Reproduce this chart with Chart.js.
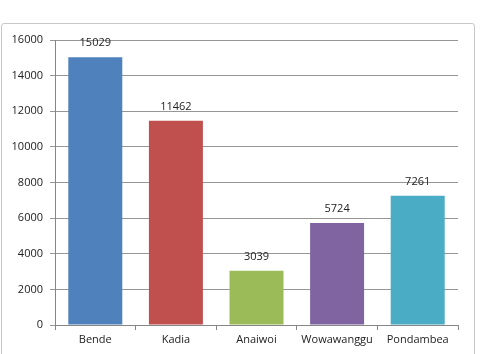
<!DOCTYPE html>
<html>
<head>
<meta charset="utf-8">
<script src="https://cdn.jsdelivr.net/npm/chart.js@4/dist/chart.umd.min.js"></script>
<style>
  body { margin: 0; background: #fff; }
  #frame { position: absolute; left: 1px; top: 23px; width: 472px; height: 345px; border: 1px solid #c8c8c8; border-radius: 3px; }
  #wrap { position: absolute; left: 0; top: 0; width: 480px; height: 354px; }
</style>
</head>
<body>
<div id="frame"></div>
<div id="wrap"><canvas id="myChart" width="480" height="354"></canvas></div>
<script>
// data
let villages = ['Bende', 'Kadia', 'Anaiwoi', 'Wowawanggu', 'Pondambea'];
let counts = [15029, 11462, 3039, 5724, 7261];
let barColors = ['#4F81BD', '#C0504D', '#9BBB59', '#8064A2', '#4BACC6'];

let fontFam = '"Open Sans", "Liberation Sans", sans-serif';

// value labels above each bar
let topLabels = {
    id: 'topLabels',
    afterDatasetsDraw(chart) {
        let ctx = chart.ctx;
        let meta = chart.getDatasetMeta(0);
        ctx.save();
        ctx.font = '11px ' + fontFam;
        ctx.fillStyle = '#222';
        ctx.textAlign = 'center';
        ctx.textBaseline = 'middle';
        meta.data.forEach(function (bar, i) {
            ctx.fillText(String(counts[i]), bar.x, bar.y - 14);
        });
        ctx.restore();
    }
};

let ctx = document.getElementById('myChart').getContext('2d');
let chart = new Chart(ctx, {
    type: 'bar',
    data: {
        labels: villages,
        datasets: [{
            data: counts,
            backgroundColor: barColors,
            borderWidth: 0,
            categoryPercentage: 1,
            barPercentage: 0.67
        }]
    },
    options: {
        responsive: false,
        animation: false,
        layout: { padding: { left: 0, top: 40, right: 22, bottom: 0 } },
        plugins: { legend: { display: false }, tooltip: { enabled: false } },
        scales: {
            x: {
                afterFit: function (s) { s.height = 29; },
                grid: { drawOnChartArea: false, drawTicks: true, tickLength: 5, color: '#868686' },
                border: { color: '#868686' },
                ticks: { color: '#222', font: { family: fontFam, size: 11 }, padding: 3 }
            },
            y: {
                min: 0,
                max: 16000,
                afterFit: function (s) { s.width = 55; },
                grid: { color: '#969696', tickLength: 5 },
                border: { color: '#868686' },
                ticks: {
                    stepSize: 2000,
                    color: '#222',
                    font: { family: fontFam, size: 11 },
                    padding: 7,
                    callback: function (v) { return String(v); }
                }
            }
        }
    },
    plugins: [topLabels]
});
</script>
</body>
</html>
